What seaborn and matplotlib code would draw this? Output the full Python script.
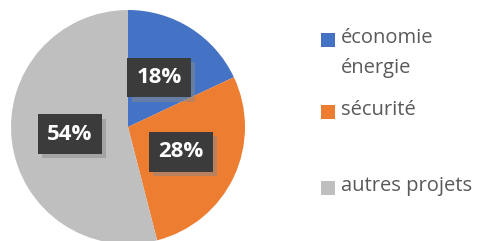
import matplotlib
matplotlib.use("Agg")
import matplotlib.pyplot as plt
import matplotlib.patheffects as pe
from matplotlib.patches import Rectangle
import seaborn as sns

labels = ["économie\nénergie", "sécurité", "autres projets"]
shares = [18, 28, 54]
colors = ["#4472C4", "#ED7D31", "#BFBFBF"]

sns.set_theme(style="white")
plt.rcParams["font.family"] = ["Open Sans", "DejaVu Sans"]

fig = plt.figure(figsize=(4.78, 2.41), dpi=100)
fig.patch.set_facecolor("white")

# pie axes: centre around (128, 127) px, radius ~117 px
ax = fig.add_axes([11 / 478, -3 / 241, 234 / 478, 234 / 241])
wedges, texts, autotexts = ax.pie(
    shares, colors=colors, startangle=90, counterclock=False,
    autopct="%d%%", pctdistance=0.5,
    wedgeprops=dict(linewidth=0),
)
for t in autotexts:
    t.set_color("white")
    t.set_fontsize(16)
    t.set_fontweight("bold")
    t.set_bbox(dict(boxstyle="square,pad=0.42", facecolor="#3b3b3b", edgecolor="none"))
    t.get_bbox_patch().set_path_effects([
        pe.SimplePatchShadow(offset=(3, -3), shadow_rgbFace="#888888", alpha=0.5),
        pe.Normal(),
    ])
ax.set_xlim(-1, 1)
ax.set_ylim(-1, 1)
ax.set_aspect("equal")
ax.axis("off")

# legend on the right, drawn by hand (uneven spacing as in source)
leg_y = [40, 112, 188]
for lab, col, y in zip(labels, colors, leg_y):
    fig.patches.append(Rectangle((321 / 478, 1 - (y + 7) / 241), 14 / 478, 14 / 241,
                                 transform=fig.transFigure, facecolor=col, edgecolor="none"))
    fig.text(341 / 478, 1 - (y - 12) / 241, lab, color="#595959", fontsize=14.5,
             va="top", ha="left", linespacing=1.65)

fig.savefig("out.png", dpi=100)
